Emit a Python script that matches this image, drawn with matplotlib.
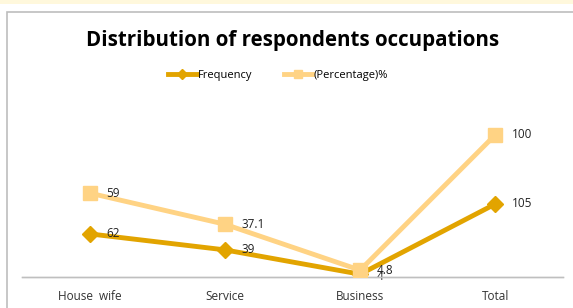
import matplotlib.pyplot as plt
from matplotlib.patches import Rectangle

# Distribution of respondents occupations (line chart, two scales)
categories = ['House  wife', 'Service', 'Business', 'Total']
frequency = [62, 39, 4, 105]
percentage = [59, 37.1, 4.8, 100]

freqColor = '#E2A400'
pctColor = '#FFD384'

plt.rcParams['font.family'] = ['Open Sans', 'DejaVu Sans']

fig = plt.figure(figsize=(5.73, 3.08), dpi=100)
fig.patch.set_facecolor('white')
# pale strip at top and the chart frame
fig.patches.append(Rectangle((0, 0.988), 1, 0.012, transform=fig.transFigure,
                             facecolor='#FFF8DC', edgecolor='none', zorder=-2))
fig.patches.append(Rectangle((7/573, -0.05), 1.0, 1 - 11.5/308 + 0.05, transform=fig.transFigure,
                             facecolor='white', edgecolor='#BDBDBD', linewidth=1.2, zorder=-1))

ax = fig.add_axes([22/573, (308-277)/308, (563-22)/573, (277-85)/308])
ax2 = ax.twinx()
x = list(range(len(categories)))

ax.plot(x, frequency, color=freqColor, linewidth=3.5, marker='D', markersize=8,
        label='Frequency', zorder=3)
ax2.plot(x, percentage, color=pctColor, linewidth=3.5, marker='s', markersize=10,
         label='(Percentage)%', zorder=3)

ax.set_xlim(-0.5, 3.5)
ax.set_ylim(0, 276)
ax2.set_ylim(0, 135)

for a in (ax, ax2):
    for s in ['top', 'right', 'left']:
        a.spines[s].set_visible(False)
    a.spines['bottom'].set_color('#BFBFBF')
    a.spines['bottom'].set_linewidth(1)
    a.set_yticks([])
    a.patch.set_alpha(0)

ax.set_xticks(x)
ax.set_xticklabels(categories, fontsize=8.5, color='#333333')
ax.tick_params(axis='x', length=0, pad=9)

for i, v in enumerate(frequency):
    dy = -2 if i == 2 else 0
    ax.annotate(str(v), (x[i], v), xytext=(12, dy), textcoords='offset points',
                fontsize=8.5, va='center', color='#222222')
for i, v in enumerate(percentage):
    ax2.annotate(str(v), (x[i], v), xytext=(12, 0), textcoords='offset points',
                 fontsize=8.5, va='center', color='#222222')

fig.text(0.51, 0.87, 'Distribution of respondents occupations', ha='center', va='center',
         fontsize=14.8, fontweight='bold', color='black')

h1, l1 = ax.get_legend_handles_labels()
h2, l2 = ax2.get_legend_handles_labels()
fig.legend(h1 + h2, l1 + l2, loc='center', bbox_to_anchor=(0.485, 0.755), ncol=2,
           frameon=False, fontsize=8, handlelength=2.6, handletextpad=0.1,
           columnspacing=2.8, markerscale=0.6)

fig.savefig('out.png', dpi=100)
